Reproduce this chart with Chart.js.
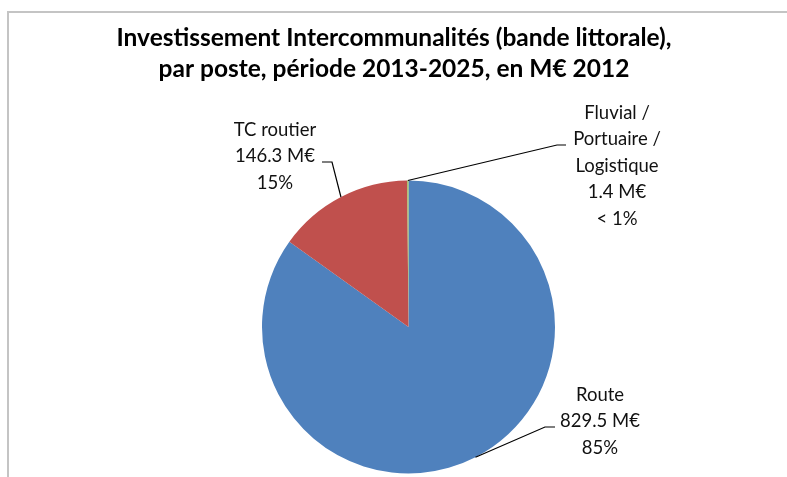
<!DOCTYPE html>
<html>
<head>
<meta charset="utf-8">
<script src="https://cdn.jsdelivr.net/npm/chart.js@4.4.1/dist/chart.umd.min.js"></script>
<style>
html,body{margin:0;padding:0;background:#fff;}
canvas{display:block;}
</style>
</head>
<body>
<canvas id="c" width="787" height="477"></canvas>
<script>
// ---- data ----
const titleLines = ['Investissement Intercommunalités (bande littorale),', 'par poste, période 2013-2025, en M€ 2012'];
const categories = [['Route'], ['TC routier'], ['Fluvial /', 'Portuaire /', 'Logistique']];
const values = [829.5, 146.3, 1.4];
const percentLabels = ['85%', '15%', '< 1%'];
const unit = ' M€';

// ---- style ----
const colors = ['#4F81BD', '#C0504D', '#9BBB59'];
const labelFont = '18.5px Lato';
const titleFont = 'bold 24.5px Lato';
const lineH = 26.5;
// label layout relative to pie centre: text centre x, first line y, leader elbow, leader end
const labelLayout = [
  {tx: 191.5, ty: 68, ex: 136.5, ey: 100, lx: 146.5, ly: 100},
  {tx: -133.5, ty: -197, ex: -76.5, ey: -165, lx: -86.5, ly: -165},
  {tx: 208.5, ty: -214, ex: 148.5, ey: -182, lx: 157.5, ly: -182}
];

const decorPlugin = {
  id: 'decor',
  beforeDraw(chart) {
    const ctx = chart.ctx;
    ctx.save();
    ctx.fillStyle = '#fff';
    ctx.fillRect(0, 0, chart.width, chart.height);
    ctx.strokeStyle = '#c4c4c4';
    ctx.lineWidth = 2;
    ctx.beginPath();
    ctx.moveTo(8, chart.height);
    ctx.lineTo(8, 12);
    ctx.lineTo(chart.width, 12);
    ctx.stroke();
    ctx.fillStyle = '#000';
    ctx.font = titleFont;
    ctx.textAlign = 'center';
    ctx.textBaseline = 'middle';
    ctx.fillText(titleLines[0], 394, 38);
    ctx.fillText(titleLines[1], 394, 69);
    ctx.restore();
  },
  afterDraw(chart) {
    const ctx = chart.ctx;
    const meta = chart.getDatasetMeta(0);
    ctx.save();
    meta.data.forEach((arc, i) => {
      const p = arc.getProps(['x', 'y', 'startAngle', 'endAngle', 'outerRadius'], true);
      const mid = (p.startAngle + p.endAngle) / 2;
      const ax = p.x + Math.cos(mid) * p.outerRadius;
      const ay = p.y + Math.sin(mid) * p.outerRadius;
      const L = labelLayout[i];
      ctx.strokeStyle = '#000';
      ctx.lineWidth = 1.2;
      ctx.beginPath();
      ctx.moveTo(ax, ay);
      ctx.lineTo(p.x + L.ex, p.y + L.ey);
      ctx.lineTo(p.x + L.lx, p.y + L.ly);
      ctx.stroke();
      const lines = categories[i].concat([values[i].toFixed(1) + unit, percentLabels[i]]);
      ctx.fillStyle = '#111';
      ctx.font = labelFont;
      ctx.textAlign = 'center';
      ctx.textBaseline = 'middle';
      lines.forEach((t, k) => ctx.fillText(t, p.x + L.tx, p.y + L.ty + k * lineH));
    });
    ctx.restore();
  }
};

new Chart(document.getElementById('c'), {
  type: 'pie',
  data: {
    labels: categories.map(c => c.join(' ')),
    datasets: [{data: values, backgroundColor: colors, borderWidth: 0}]
  },
  options: {
    responsive: false,
    animation: false,
    devicePixelRatio: 1,
    layout: {padding: {left: 262, right: 232, top: 180.5, bottom: 3.5}},
    plugins: {legend: {display: false}, title: {display: false}, tooltip: {enabled: false}}
  },
  plugins: [decorPlugin]
});
</script>
</body>
</html>
